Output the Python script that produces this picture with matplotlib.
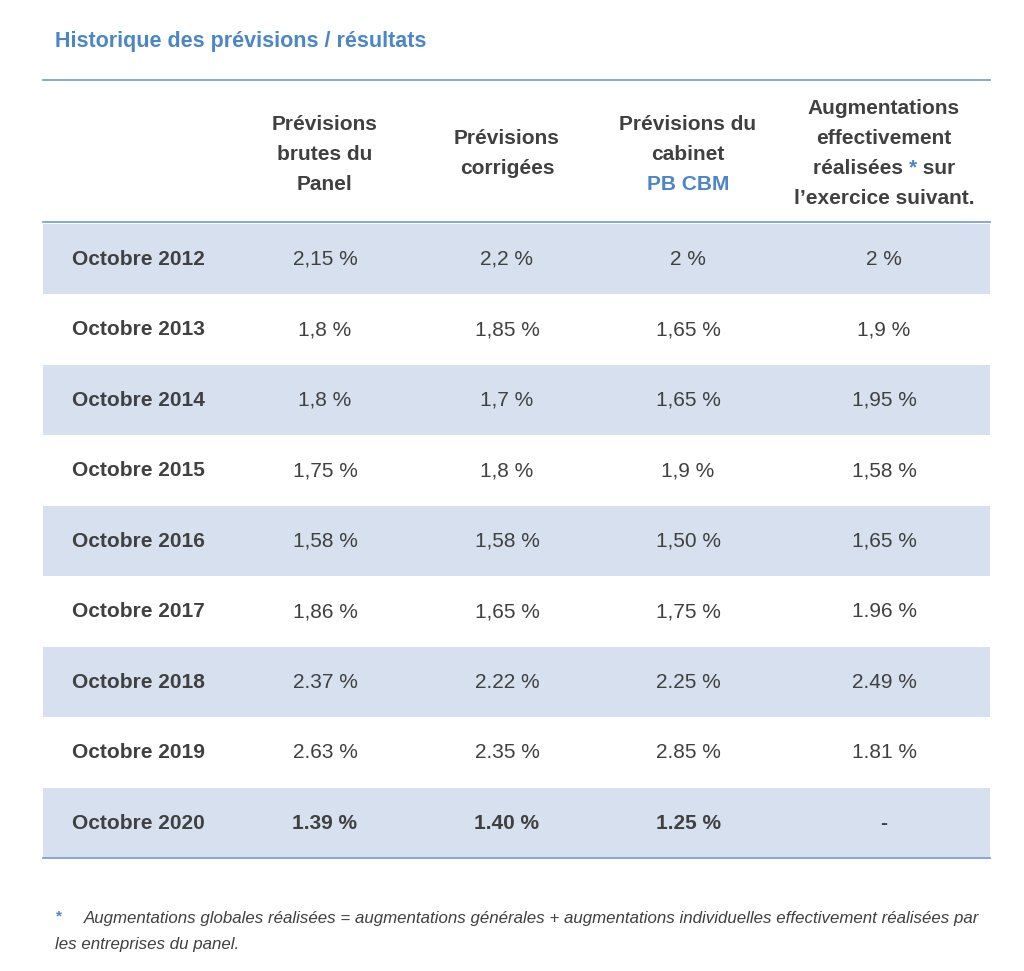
import matplotlib.pyplot as plt
from matplotlib.patches import Rectangle

row_labels = ["Octobre 2012", "Octobre 2013", "Octobre 2014", "Octobre 2015", "Octobre 2016",
              "Octobre 2017", "Octobre 2018", "Octobre 2019", "Octobre 2020"]
panel_brut = ["2,15 %", "1,8 %", "1,8 %", "1,75 %", "1,58 %", "1,86 %", "2.37 %", "2.63 %", "1.39 %"]
corrigees = ["2,2 %", "1,85 %", "1,7 %", "1,8 %", "1,58 %", "1,65 %", "2.22 %", "2.35 %", "1.40 %"]
cabinet = ["2 %", "1,65 %", "1,65 %", "1,9 %", "1,50 %", "1,75 %", "2.25 %", "2.85 %", "1.25 %"]
realisees = ["2 %", "1,9 %", "1,95 %", "1,58 %", "1,65 %", "1.96 %", "2.49 %", "1.81 %", "-"]

W, H = 1024, 971
BLUE = "#4a86c8"
BAND = "#d6e0ee"
LINE = "#7ba3d6"
GRAY = "#404040"
FONT = "Liberation Sans"
FS = 15

fig = plt.figure(figsize=(W / 100, H / 100), dpi=100)
ax = fig.add_axes([0, 0, 1, 1])
ax.set_xlim(0, W)
ax.set_ylim(H, 0)
ax.axis("off")

ax.text(55, 42, "Historique des prévisions / résultats", color=BLUE, fontsize=15.5,
        fontweight="bold", family=FONT, va="center")
x0, x1 = 43, 990
ax.plot([x0, x1], [80, 80], color=LINE, lw=1.3)
ax.plot([x0, x1], [222, 222], color=LINE, lw=1.3)

col_x = [325, 507, 688, 884]
top, rh = 224, 70.5
for i, lab in enumerate(row_labels):
    yc = top + rh * i + rh / 2
    if i % 2 == 0:
        ax.add_patch(Rectangle((x0, top + rh * i), x1 - x0, rh, color=BAND, lw=0))
    last = i == len(row_labels) - 1
    ax.text(138, yc, lab, ha="center", va="center", fontsize=FS, fontweight="bold",
            color=GRAY, family=FONT)
    for cx, vals in zip(col_x, [panel_brut, corrigees, cabinet, realisees]):
        ax.text(cx, yc, vals[i], ha="center", va="center", fontsize=FS, color=GRAY,
                family=FONT, fontweight="bold" if last else "normal")
ax.plot([x0, x1], [top + rh * 9, top + rh * 9], color=LINE, lw=1.3)

hkw = dict(ha="center", va="center", fontsize=FS, fontweight="bold", family=FONT)
lsp = 30
for j, line in enumerate(["Prévisions", "brutes du", "Panel"]):
    ax.text(col_x[0], 125 + lsp * j, line, color=GRAY, **hkw)
for j, line in enumerate(["Prévisions", "corrigées"]):
    ax.text(col_x[1], 139 + lsp * j, line, color=GRAY, **hkw)
for j, line in enumerate(["Prévisions du", "cabinet", "PB CBM"]):
    ax.text(col_x[2], 125 + lsp * j, line, color=BLUE if j == 2 else GRAY, **hkw)
for j, line in enumerate(["Augmentations", "effectivement", None, "l’exercice suivant."]):
    if line:
        ax.text(col_x[3], 108 + lsp * j, line, color=GRAY, **hkw)

# multi-colour header line "réalisées * sur"
fig.canvas.draw()
r = fig.canvas.get_renderer()
parts = [("réalisées ", GRAY), ("*", BLUE), (" sur", GRAY)]
kw = dict(va="center", fontsize=FS, fontweight="bold", family=FONT)
widths = []
for s, c in parts:
    t = ax.text(0, 0, s, **kw)
    widths.append(t.get_window_extent(r).width)
    t.remove()
xs = col_x[3] - sum(widths) / 2
for (s, c), w in zip(parts, widths):
    ax.text(xs, 168, s, color=c, ha="left", **kw)
    xs += w

fkw = dict(fontsize=12.2, style="italic", family=FONT, color=GRAY, va="center")
ax.text(56, 916, "*", fontsize=11, color=BLUE, va="center", fontweight="bold", family=FONT)
ax.text(84, 918, "Augmentations globales réalisées = augmentations générales + augmentations "
        "individuelles effectivement réalisées par", **fkw)
ax.text(55, 945, "les entreprises du panel.", **fkw)

fig.savefig("out.png", dpi=100)
